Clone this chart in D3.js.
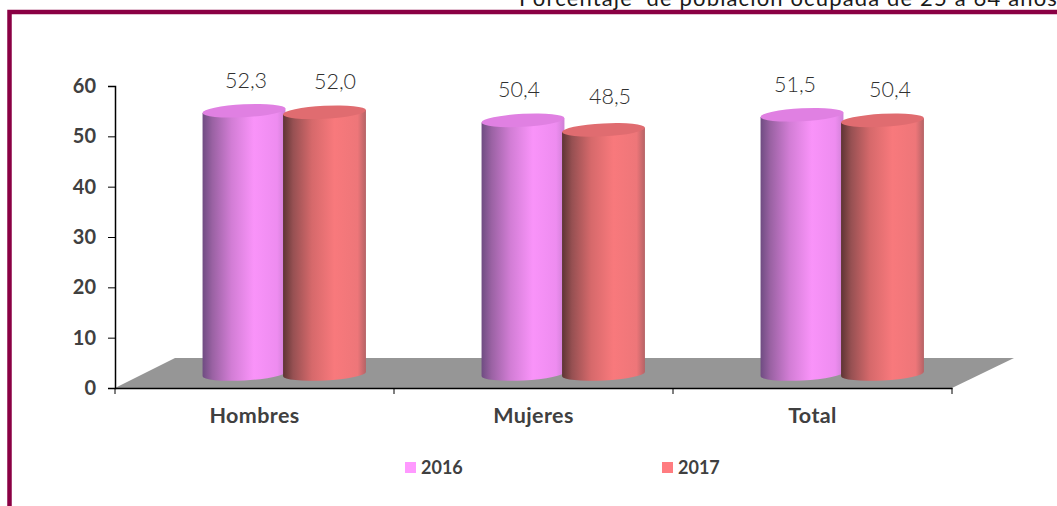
<!DOCTYPE html>
<html><head><meta charset="utf-8">
<script src="https://cdn.jsdelivr.net/npm/d3@7"></script>
<style>html,body{margin:0;padding:0;background:#fff;overflow:hidden}svg{display:block}text{font-family:Lato,"Open Sans",sans-serif}</style>
</head><body><div id="c"></div>
<script>
const categories = ["Hombres", "Mujeres", "Total"];
const seriesNames = ["2016", "2017"];
const values2016 = [52.3, 50.4, 51.5];
const values2017 = [52.0, 48.5, 50.4];
const yTicks = [0, 10, 20, 30, 40, 50, 60];
const titleText = "Porcentaje  de población ocupada de 25 a 64 años";
const labelNudge2016 = [2, -4, -7];
const labelNudge2017 = [10.5, 6.5, 7.5];
const labelLift2017 = [0, 3, 0];

const W = 1057, H = 506;
const svg = d3.select("#c").append("svg").attr("width", W).attr("height", H);
const y = d3.scaleLinear().domain([0, 60]).range([388, 86]);
const x = d3.scaleBand().domain(categories).range([115, 952]);
const depthX = 60, depthY = 30;
const barW = 83, rx = barW / 2, ry = 6.5, rot = -3;
const tx = Math.cos(rot * Math.PI / 180) * rx, tyy = Math.sin(rot * Math.PI / 180) * rx;
const baseShift = -14;

const palettes = [
  {base: "#ff99ff", top: "#e080e2", id: "g16", stops: [[0,"#6f4c82"],[.12,"#9a62a3"],[.35,"#d27dd5"],[.62,"#f993f9"],[.9,"#ee8cf0"],[1,"#cf80d6"]]},
  {base: "#ff7c80", top: "#e06c70", id: "g17", stops: [[0,"#5e3434"],[.12,"#965052"],[.35,"#d6696b"],[.62,"#f8797c"],[.9,"#ee7679"],[1,"#b56366"]]}
];
const defs = svg.append("defs");
palettes.forEach(p => {
  const g = defs.append("linearGradient").attr("id", p.id).attr("x1", 0).attr("x2", 1).attr("y1", 0).attr("y2", 0);
  p.stops.forEach(s => g.append("stop").attr("offset", s[0]).attr("stop-color", s[1]));
});

// frame
svg.append("path").attr("d", `M9.5,${H}V12H${W}`).attr("fill", "none").attr("stroke", "#8a0044").attr("stroke-width", 4.5);

// title
svg.append("text").attr("x", 1058).attr("y", 6).attr("text-anchor", "end")
  .attr("font-size", 22).attr("letter-spacing", 1.15).attr("fill", "#1a1a1a").style("white-space", "pre").text(titleText);

// floor
const [x0, x1] = x.range();
svg.append("polygon").attr("fill", "#969696")
  .attr("points", [[x0, y(0)], [x0 + depthX, y(0) - depthY], [x1 + depthX + 2, y(0) - depthY], [x1, y(0)]].join(" "));

// axes
const axisL = d3.axisLeft(y).tickValues(yTicks).tickSize(7).tickPadding(12);
const gy = svg.append("g").attr("transform", "translate(115,0)").call(axisL);
gy.selectAll("text").attr("font-size", 20).attr("font-weight", 700).attr("fill", "#404040");
const axisB = d3.axisBottom(x).tickSize(0).tickPadding(20);
const gx = svg.append("g").attr("transform", `translate(0,${y(0)})`).call(axisB);
gx.selectAll("text").attr("font-size", 21.5).attr("letter-spacing", 0.4).attr("font-weight", 700).attr("fill", "#404040");
gx.selectAll(".tick line").remove();
svg.selectAll(".domain").attr("stroke", "#000").attr("stroke-width", 1.5);
gy.selectAll("line").attr("stroke", "#000");
const sepTicks = [...categories.map(c => x(c)), x1];
svg.append("g").selectAll("line").data(sepTicks).join("line")
  .attr("x1", d => d).attr("x2", d => d).attr("y1", y(0)).attr("y2", y(0) + 6).attr("stroke", "#000");

// cylinders
const series = [values2016, values2017];
const centerOf = (c, s) => x(c) + x.bandwidth() / 2 + depthX / 2 + (s === 0 ? -40.5 : 40);
series.forEach((vals, s) => {
  const p = palettes[s];
  const g = svg.append("g");
  categories.forEach((c, i) => {
    const cx = centerOf(c, s), top = y(vals[i]) + baseShift, bot = y(0) + baseShift;
    g.append("path").attr("fill", `url(#${p.id})`)
      .attr("d", `M${cx - tx},${top - tyy}L${cx - tx},${bot - tyy}A${rx},${ry} ${rot} 0 0 ${cx + tx},${bot + tyy}L${cx + tx},${top + tyy}Z`);
    g.append("ellipse").attr("cx", cx).attr("cy", top).attr("rx", rx).attr("ry", ry)
      .attr("transform", `rotate(${rot} ${cx} ${top})`).attr("fill", p.top);
  });
});

// data labels
const fmt = v => v.toFixed(1).replace(".", ",");
series.forEach((vals, s) => {
  const nudge = s === 0 ? labelNudge2016 : labelNudge2017;
  categories.forEach((c, i) => {
    const lift = s === 1 ? labelLift2017[i] : 0;
    svg.append("text").attr("x", centerOf(c, s) + nudge[i]).attr("y", y(vals[i]) + baseShift - 23 - lift)
      .attr("text-anchor", "middle").attr("font-size", 21.5).attr("font-weight", 300).attr("fill", "#303030").text(fmt(vals[i]));
  });
});

// legend
const legendX = d3.scaleOrdinal().domain(seriesNames).range([405, 662]);
seriesNames.forEach((n, s) => {
  svg.append("rect").attr("x", legendX(n)).attr("y", 462).attr("width", 11).attr("height", 11).attr("fill", palettes[s].base);
  svg.append("text").attr("x", legendX(n) + 16).attr("y", 474).attr("font-size", 18).attr("font-weight", 700).attr("fill", "#404040").text(n);
});
</script></body></html>
